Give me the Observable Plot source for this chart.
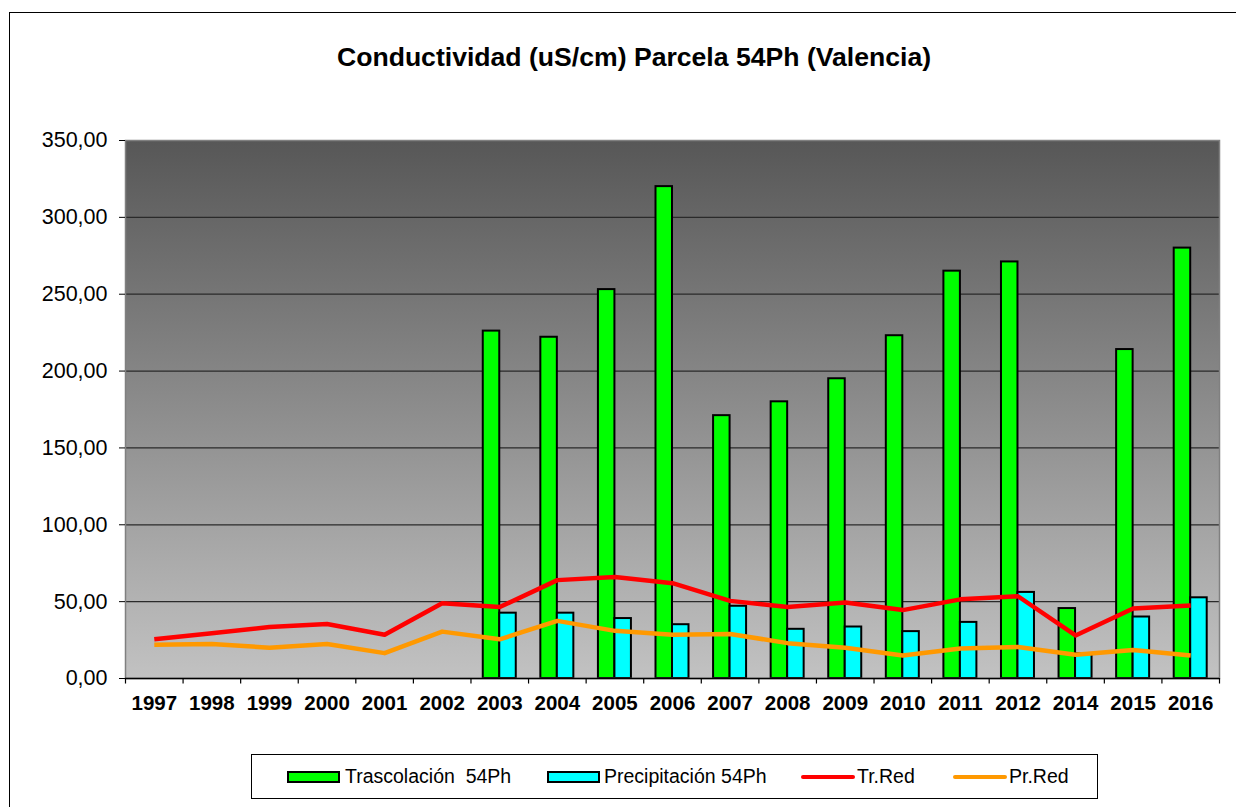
<!DOCTYPE html>
<html>
<head>
<meta charset="utf-8">
<script src="https://cdn.jsdelivr.net/npm/d3@7"></script>
<script src="https://cdn.jsdelivr.net/npm/@observablehq/plot@0.6"></script>
<style>
  html, body { margin: 0; padding: 0; background: #fff; }
  body { font-family: "Liberation Sans", Arial, sans-serif; }
  #wrap { position: relative; width: 1236px; height: 807px; overflow: hidden; background: #fff; }
  #border { position: absolute; left: 9px; top: 12px; width: 1260px; height: 820px; border: 1px solid #000; box-sizing: border-box; }
  #title { position: absolute; left: 0; width: 1268px; top: 42px; text-align: center; font-weight: bold; font-size: 26.6px; line-height: 30px; color: #000; }
  #chart { position: absolute; left: 0; top: 100px; }
  #legend { position: absolute; left: 251px; top: 754px; width: 847px; height: 45px; border: 1px solid #000; box-sizing: border-box; background: #fff; }
  .sw { position: absolute; box-sizing: border-box; }
  .lt { position: absolute; font-size: 19.5px; line-height: 22px; top: 10px; color: #000; white-space: pre; }
</style>
</head>
<body>
<div id="wrap">
  <div id="border"></div>
  <div id="title">Conductividad (uS/cm) Parcela 54Ph (Valencia)</div>
  <div id="chart"></div>
  <div id="legend">
    <div class="sw" style="left:35px;top:16px;width:53px;height:12px;background:#00ff00;border:2px solid #000;"></div>
    <div class="lt" style="left:93px;">Trascolación  54Ph</div>
    <div class="sw" style="left:295px;top:16px;width:53px;height:12px;background:#00ffff;border:2px solid #000;"></div>
    <div class="lt" style="left:352px;">Precipitación 54Ph</div>
    <div class="sw" style="left:549px;top:20px;width:54px;height:4px;background:#ff0000;border-radius:2px;"></div>
    <div class="lt" style="left:605px;">Tr.Red</div>
    <div class="sw" style="left:701px;top:20px;width:54px;height:4px;background:#ff9900;border-radius:2px;"></div>
    <div class="lt" style="left:757px;">Pr.Red</div>
  </div>
</div>
<script>
// ---- data ----
const years = ["1997","1998","1999","2000","2001","2002","2003","2004","2005","2006","2007","2008","2009","2010","2011","2012","2014","2015","2016"];
const trascolacion = [null,null,null,null,null,null,226,222,253,320,171,180,195,223,265,271,45.5,214,280];
const precipitacion = [null,null,null,null,null,null,42.5,42.5,39,35,47,32,33.5,30.5,36.5,56,16,40,52.5];
const trRed = [25.5,29.5,33.5,35.5,28.5,49,46.5,64,66,62,50.5,46.5,49.5,44.5,51.5,53.5,28,45.5,47.5];
const prRed = [22,22.5,20,22.5,16.5,30.5,25.5,37.5,31,28.5,29,23,20,15,19.5,20.5,15.5,18.5,15];
const yTicks = [0,50,100,150,200,250,300,350];

const rows = years.map((y, i) => ({year: y, tras: trascolacion[i], prec: precipitacion[i], tr: trRed[i], pr: prRed[i]}));

const W = 1236, H = 640, mL = 125, mR = 17, mT = 40, mB = 62;
const bw = (W - mL - mR) / years.length;
const barW = 16.5;
const fmt = d => d3.format(".2f")(d).replace(".", ",");

const chart = Plot.plot({
  width: W, height: H,
  marginLeft: mL, marginRight: mR, marginTop: mT, marginBottom: mB,
  style: {fontFamily: '"Liberation Sans", Arial, sans-serif', fontSize: "20px", color: "#000", background: "transparent", overflow: "visible"},
  x: {type: "band", domain: years, padding: 0, round: false, label: null},
  y: {domain: [0, 350], label: null},
  marks: [
    Plot.frame({fill: "url(#bgGrad)", stroke: "none"}),
    Plot.ruleY(yTicks.filter(d => d > 0 && d < 350), {stroke: "#2a2a2a", strokeWidth: 1.2}),
    Plot.barY(rows, {x: "year", y: "tras", fill: "#00ff00", stroke: "#000", strokeWidth: 2,
      insetLeft: bw / 2 - barW, insetRight: bw / 2}),
    Plot.barY(rows, {x: "year", y: "prec", fill: "#00ffff", stroke: "#000", strokeWidth: 2,
      insetLeft: bw / 2, insetRight: bw / 2 - barW}),
    Plot.lineY(rows, {x: "year", y: "pr", stroke: "#ff9900", strokeWidth: 4.5, strokeLinejoin: "round", strokeLinecap: "butt"}),
    Plot.lineY(rows, {x: "year", y: "tr", stroke: "#ff0000", strokeWidth: 4.5, strokeLinejoin: "round", strokeLinecap: "butt"}),
    Plot.frame({stroke: "#808080", strokeWidth: 1.5}),
    Plot.ruleY([0], {stroke: "#000", strokeWidth: 1.5}),
    Plot.ruleX(years, {x: d => d, dx: -bw / 2, y1: 0, y2: -3.6, stroke: "#000", strokeWidth: 1.2}),
    Plot.ruleX(years.slice(-1), {x: d => d, dx: bw / 2, y1: 0, y2: -3.6, stroke: "#000", strokeWidth: 1.2}),
    Plot.axisY({ticks: yTicks, tickFormat: fmt, tickSize: 6, tickPadding: 12, label: null, stroke: "#000", fontSize: 21.5}),
    Plot.axisX({tickSize: 0, tickPadding: 17, label: null, fontWeight: "bold", fontSize: 20.5})
  ]
});

const svgNS = "http://www.w3.org/2000/svg";
const defs = document.createElementNS(svgNS, "defs");
defs.innerHTML = '<linearGradient id="bgGrad" x1="0" y1="0" x2="0" y2="1">' +
  '<stop offset="0" stop-color="#575757"/><stop offset="1" stop-color="#c2c2c2"/></linearGradient>';
const svgEl = chart.tagName.toLowerCase() === "svg" ? chart : chart.querySelector("svg");
svgEl.insertBefore(defs, svgEl.firstChild);
document.getElementById("chart").appendChild(chart);
</script>
</body>
</html>
